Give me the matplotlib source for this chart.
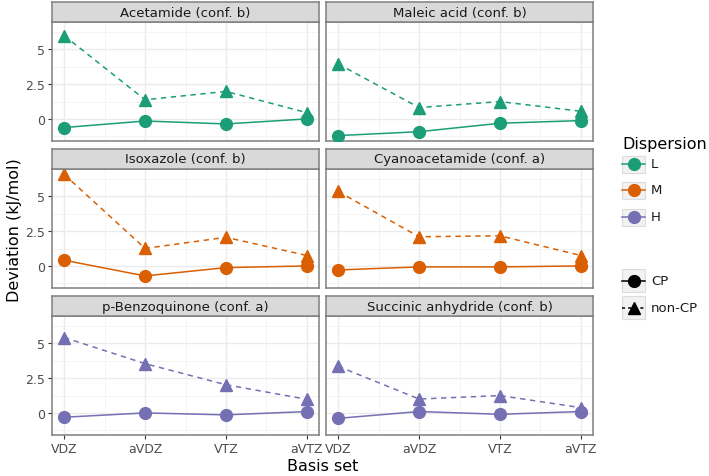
import numpy as np
import matplotlib.pyplot as plt
from matplotlib.patches import Rectangle
from matplotlib.lines import Line2D

W, H = 709, 477

# data
basis = ["VDZ", "aVDZ", "VTZ", "aVTZ"]
titles = ["Acetamide (conf. b)", "Maleic acid (conf. b)",
          "Isoxazole (conf. b)", "Cyanoacetamide (conf. a)",
          "p-Benzoquinone (conf. a)", "Succinic anhydride (conf. b)"]
dispersion = ["L", "L", "M", "M", "H", "H"]
cp = [[-0.62, -0.15, -0.36, 0.0],
      [-1.2, -0.92, -0.31, -0.12],
      [0.41, -0.72, -0.12, 0.0],
      [-0.29, -0.07, -0.07, 0.0],
      [-0.31, 0.0, -0.14, 0.1],
      [-0.39, 0.1, -0.1, 0.1]]
noncp = [[6.0, 1.38, 1.98, 0.45],
         [3.96, 0.82, 1.25, 0.55],
         [6.59, 1.26, 2.06, 0.75],
         [5.36, 2.1, 2.17, 0.75],
         [5.43, 3.55, 2.03, 0.98],
         [3.36, 1.0, 1.25, 0.38]]
colors = {"L": "#1B9E77", "M": "#D95F02", "H": "#7570B3"}

def fig_rect(x, y, w, h):
    # pixel box (top-left origin) -> figure fraction
    return [x / W, 1 - (y + h) / H, w / W, h / H]

fig = plt.figure(figsize=(W / 100, H / 100), dpi=100)

allv = np.array(cp + noncp)
lo, hi = allv.min(), allv.max()
pad = 0.05 * (hi - lo)
ylim = (lo - pad, hi + pad)
x = np.arange(len(basis))
xlim = (-0.05 * 3, 3 + 0.05 * 3)

col_x = [52, 326]
row_y = [23, 170, 317]
pw, ph = 267, 119
border = "#7f7f7f"

for i, title in enumerate(titles):
    r, c = divmod(i, 2)
    ax = fig.add_axes(fig_rect(col_x[c], row_y[r], pw, ph))
    col = colors[dispersion[i]]
    ax.plot(x, noncp[i], color=col, lw=1.1, ls=(0, (3.5, 3)), marker="^",
            ms=8.5, zorder=3)
    ax.plot(x, cp[i], color=col, lw=1.1, marker="o", ms=8.5, zorder=4)
    ax.set_xlim(xlim)
    ax.set_ylim(ylim)
    ax.set_xticks(x)
    ax.set_xticks([0.5, 1.5, 2.5], minor=True)
    ax.set_yticks([0, 2.5, 5])
    ax.set_yticks([-1.25, 1.25, 3.75, 6.25], minor=True)
    ax.grid(which="major", color="#ebebeb", lw=1.0, zorder=0)
    ax.grid(which="minor", color="#f3f3f3", lw=0.6, zorder=0)
    ax.set_axisbelow(True)
    for s in ax.spines.values():
        s.set_color(border)
        s.set_linewidth(1.1)
    ax.tick_params(which="minor", length=0)
    ax.tick_params(which="major", length=3, color="#333333",
                   labelcolor="#4d4d4d", labelsize=9, pad=2)
    if r == 2:
        ax.set_xticklabels(basis)
    else:
        ax.tick_params(axis="x", length=0, labelbottom=False)
    if c == 0:
        ax.set_yticklabels(["0", "2.5", "5"])
    else:
        ax.tick_params(axis="y", length=0, labelleft=False)

    sx = fig.add_axes(fig_rect(col_x[c], row_y[r] - 20, pw, 20))
    sx.set_facecolor("#d9d9d9")
    sx.set_xticks([])
    sx.set_yticks([])
    for s in sx.spines.values():
        s.set_color(border)
        s.set_linewidth(1.1)
    sx.text(0.5, 0.5, title, ha="center", va="center", fontsize=9.5,
            color="#1a1a1a", transform=sx.transAxes)

fig.text(15 / W, 1 - 230 / H, "Deviation (kJ/mol)", rotation=90,
         ha="center", va="center", fontsize=11.5)
fig.text(323 / W, 1 - 467 / H, "Basis set", ha="center", va="center",
         fontsize=11.5)

# legend
fig.text(622 / W, 1 - 145 / H, "Dispersion", ha="left", va="center",
         fontsize=11.5)

def key(cy, kh, color, marker, ls, label):
    kx, kw = 622, 23
    fig.patches.append(Rectangle((kx / W, 1 - (cy + kh / 2) / H), kw / W, kh / H,
                                 transform=fig.transFigure, facecolor="#f2f2f2",
                                 edgecolor="#dcdcdc", lw=0.8))
    fig.lines.append(Line2D([kx / W, (kx + kw) / W], [1 - cy / H] * 2,
                            transform=fig.transFigure, color=color, lw=1.1,
                            ls=ls))
    fig.lines.append(Line2D([(kx + kw / 2) / W], [1 - cy / H],
                            transform=fig.transFigure, color=color,
                            marker=marker, ms=8.5, ls="none"))
    fig.text(651 / W, 1 - cy / H, label, ha="left", va="center", fontsize=9.5,
             color="#1a1a1a")

for cy, d in zip([165, 191, 218], ["L", "M", "H"]):
    key(cy, 17, colors[d], "o", "-", d)
key(281.5, 23, "black", "o", "-", "CP")
key(308.5, 23, "black", "^", (0, (2, 2)), "non-CP")

fig.savefig("out.png", dpi=100)
